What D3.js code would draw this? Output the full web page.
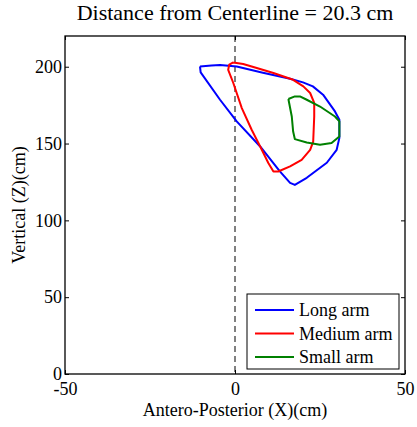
<!DOCTYPE html>
<html>
<head>
<meta charset="utf-8">
<script src="https://cdn.jsdelivr.net/npm/d3@7"></script>
<style>
  body { margin: 0; background: #fff; }
</style>
</head>
<body>
<script>
// series: [x, z] outline points
const longArm = [
  [-10.3, 200.2], [-10.1, 196.3], [-4.4, 178.5], [0.5, 164.4], [7.4, 148.1],
  [13.2, 131.9], [16.2, 124.4], [17.6, 123.1], [21.1, 127.7], [27.0, 137.5],
  [29.9, 145.9], [30.7, 153.7], [30.7, 165.5], [29.4, 170.9], [25.9, 181.8],
  [22.9, 187.2], [20.0, 189.8], [16.2, 192.2], [8.2, 196.1], [0.5, 200.2],
  [-4.4, 201.1], [-6.9, 200.8], [-10.3, 200.2]
];
const mediumArm = [
  [-0.5, 202.8], [-1.7, 201.3], [-2.0, 198.0], [-0.5, 189.4], [2.0, 173.1],
  [4.9, 159.0], [7.4, 148.1], [9.8, 137.3], [11.3, 131.8], [12.7, 131.8],
  [16.2, 135.1], [19.6, 139.4], [22.1, 145.9], [23.0, 151.3], [23.3, 167.6],
  [23.3, 176.4], [22.1, 182.9], [20.1, 187.2], [17.1, 191.5], [11.3, 195.9],
  [6.4, 199.2], [2.4, 201.8], [-0.5, 202.8]
];
const smallArm = [
  [15.7, 179.0], [17.6, 180.7], [19.1, 180.7], [21.1, 178.5], [25.0, 174.1],
  [29.4, 167.6], [30.7, 164.4], [30.7, 154.6], [28.4, 150.3], [25.0, 149.2],
  [21.1, 150.7], [17.6, 152.9], [17.1, 157.8], [16.7, 167.6], [15.7, 179.0]
];
const seriesNames = ["Long arm", "Medium arm", "Small arm"];
const seriesColors = ["#0000ff", "#ff0000", "#008000"];
const xTicks = [-50, 0, 50];
const yTicks = [0, 50, 100, 150, 200];
const titleText = "Distance from Centerline = 20.3 cm";

const FONT = "'Liberation Serif', 'Times New Roman', Times, serif";

const W = 417, H = 427;
const margin = {top: 36, right: 12, bottom: 53, left: 65};
const width = W - margin.left - margin.right,
  height = H - margin.top - margin.bottom;

const svg = d3.select("body").append("svg")
  .attr("width", W)
  .attr("height", H)
  .style("font-family", FONT)
.append("g")
  .attr("transform", `translate(${margin.left},${margin.top})`);

const x = d3.scaleLinear().domain([-50, 50]).range([0, width]);
const y = d3.scaleLinear().domain([0, 220]).range([height, 0]);

// axes with inward ticks, mirrored on top and right like matlab box
const styleAxis = g => {
  g.attr("font-family", null).attr("font-size", null);
  g.select(".domain").remove();
  g.selectAll(".tick line").attr("stroke", "#000");
  g.selectAll("text")
    .style("font-family", FONT)
    .style("font-size", "18px")
    .attr("fill", "#000");
};
svg.append("g")
  .attr("transform", `translate(0,${height})`)
  .call(d3.axisBottom(x).tickValues(xTicks).tickSize(-4).tickPadding(8).tickFormat(d => String(d)))
  .call(styleAxis);
svg.append("g")
  .call(d3.axisTop(x).tickValues(xTicks).tickSize(-4).tickFormat(""))
  .call(styleAxis);
svg.append("g")
  .call(d3.axisLeft(y).tickValues(yTicks).tickSize(-4).tickPadding(3).tickFormat(d => String(d)))
  .call(styleAxis);
svg.append("g")
  .attr("transform", `translate(${width},0)`)
  .call(d3.axisRight(y).tickValues(yTicks).tickSize(-4).tickFormat(""))
  .call(styleAxis);

// dashed centerline
svg.append("line")
  .attr("x1", x(0)).attr("x2", x(0))
  .attr("y1", 0).attr("y2", height)
  .attr("stroke", "#000")
  .attr("stroke-width", 1)
  .attr("stroke-dasharray", "6,4");

const line = d3.line().x(d => x(d[0])).y(d => y(d[1]));
[longArm, mediumArm, smallArm].forEach((pts, i) => {
  svg.append("path")
    .datum(pts)
    .attr("d", line)
    .attr("fill", "none")
    .attr("stroke", seriesColors[i])
    .attr("stroke-width", 2)
    .attr("stroke-linejoin", "round");
});

// frame
svg.append("rect")
  .attr("width", width).attr("height", height)
  .attr("fill", "none").attr("stroke", "#000").attr("stroke-width", 1.3);

// legend
const lg = svg.append("g").attr("transform", `translate(${width - 158},${height - 80})`);
lg.append("rect")
  .attr("width", 152).attr("height", 75)
  .attr("fill", "#fff").attr("stroke", "#000").attr("stroke-width", 1);
seriesNames.forEach((name, i) => {
  const yy = 16 + i * 23.5;
  lg.append("line")
    .attr("x1", 8).attr("x2", 47).attr("y1", yy).attr("y2", yy)
    .attr("stroke", seriesColors[i]).attr("stroke-width", 2);
  lg.append("text")
    .attr("x", 52).attr("y", yy + 6)
    .style("font-family", FONT)
    .style("font-size", "18px")
    .text(name);
});

svg.append("text")
  .attr("x", width / 2).attr("y", -16)
  .attr("text-anchor", "middle")
  .style("font-family", FONT)
  .style("font-size", "22px")
  .text(titleText);

svg.append("text")
  .attr("x", width / 2).attr("y", height + 42)
  .attr("text-anchor", "middle")
  .style("font-family", FONT)
  .style("font-size", "18px")
  .text("Antero-Posterior (X)(cm)");

svg.append("text")
  .attr("transform", `translate(-40,${height / 2}) rotate(-90)`)
  .attr("text-anchor", "middle")
  .style("font-family", FONT)
  .style("font-size", "18px")
  .text("Vertical (Z)(cm)");
</script>
</body>
</html>
